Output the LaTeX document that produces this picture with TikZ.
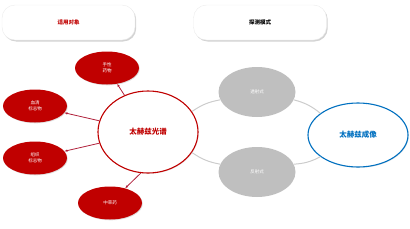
\documentclass[tikz,border=0pt]{standalone}
\usepackage{fontspec}
\setmainfont{Noto Sans CJK SC}
\usetikzlibrary{arrows.meta,positioning,shadows,shapes.geometric}
\definecolor{darkred}{HTML}{C00000}
\definecolor{linered}{HTML}{B0203A}
\definecolor{imgblue}{HTML}{0070C0}
\definecolor{modegray}{HTML}{BFBFBF}
\tikzset{
  pill/.style={draw=gray!15, fill=white, rounded corners=13pt, minimum width=133pt, minimum height=35pt,
    drop shadow={shadow xshift=1.2pt, shadow yshift=-1.5pt, opacity=0.35}, font=\fontsize{5.5}{6}\selectfont\bfseries},
  hub/.style={ellipse, draw=darkred, line width=1.1pt, fill=white, minimum width=100pt, minimum height=82pt,
    drop shadow={shadow xshift=0.8pt, shadow yshift=-0.8pt, opacity=0.2}, text=darkred, font=\fontsize{7.5}{8}\selectfont\bfseries},
  imghub/.style={ellipse, draw=imgblue, line width=1.1pt, fill=white, minimum width=100pt, minimum height=64pt,
    drop shadow={shadow xshift=0.8pt, shadow yshift=-0.8pt, opacity=0.2}, text=imgblue, font=\fontsize{7.5}{8}\selectfont\bfseries},
  target/.style={ellipse, fill=darkred, minimum width=64pt, minimum height=33pt, inner sep=0pt, align=center,
    drop shadow={shadow xshift=0.8pt, shadow yshift=-0.8pt, opacity=0.25}, text=white, font=\fontsize{4.5}{6}\selectfont},
  mode/.style={ellipse, fill=modegray, minimum width=77pt, minimum height=50pt, text=white, font=\fontsize{4.5}{6}\selectfont},
  arrow/.style={-{Latex[length=3pt,width=2.5pt]}, linered, line width=0.8pt},
  grayline/.style={modegray!80, line width=1pt}
}
\begin{document}
\begin{tikzpicture}[x=1pt,y=-1pt]
  \useasboundingbox (0,0) rectangle (410,228);
  % top labels
  \node[pill, text=darkred] (objects) at (68.5,22.5) {适用对象};
  \node[pill] (detect) at (260,22.5) {探测模式};
  % spectroscopy hub and its targets
  \node[hub] (spectrum) at (148,132) {太赫兹光谱};
  \node[target] (chiral) at (107,68) {手性\\药物};
  \node[target] (serum) at (35,106) {血清\\标志物};
  \node[target] (tissue) at (35,158) {组织\\标志物};
  \node[target] (herb) at (110,203) {中草药};
  \draw[arrow] (spectrum) -- (chiral);
  \draw[arrow] (spectrum) -- (serum);
  \draw[arrow] (spectrum) -- (tissue);
  \draw[arrow] (spectrum.260) -- (herb);
  % detection modes
  \node[mode] (trans) at (257,92) {透射式};
  \node[mode] (refl) at (257,172) {反射式};
  \node[imghub] (imaging) at (358,135) {太赫兹成像};
  \draw[grayline] (spectrum.25) to[bend left=12] (trans.192);
  \draw[grayline] (trans.-12) to[bend left=12] (imaging.150);
  \draw[grayline] (spectrum.-25) to[bend right=12] (refl.168);
  \draw[grayline] (refl.12) to[bend right=12] (imaging.-150);
\end{tikzpicture}
\end{document}
